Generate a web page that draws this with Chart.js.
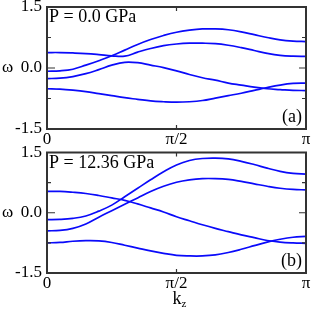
<!DOCTYPE html>
<html><head><meta charset="utf-8">
<script src="https://cdn.jsdelivr.net/npm/chart.js@4/dist/chart.umd.min.js"></script>
<style>
html,body{margin:0;padding:0;background:#fff;overflow:hidden;width:314px;height:314px;position:relative}
canvas{position:absolute;left:0}
#ca{top:-20px}
#cb{top:130px}
</style></head><body>
<canvas id="ca" width="314" height="170"></canvas>
<canvas id="cb" width="314" height="184"></canvas>
<script>
// k_z in units of pi
const kz = [0,0.05,0.1,0.15,0.2,0.25,0.3,0.35,0.4,0.45,0.5,0.55,0.6,0.65,0.7,0.75,0.8,0.85,0.9,0.95,1];
const xTickLabels = ['0','\u03C0/2','\u03C0'];
const yTickValues = [-1.5, 0, 1.5];
const yMinorValues = [-0.75, 0.75];
const panelLabels = ['P = 0.0 GPa', 'P = 12.36 GPa'];
const panelTags = ['(a)', '(b)'];

// Panel (a): P = 0.0 GPa
const a1 = [-0.08,-0.07,-0.03,0.07,0.18,0.30,0.44,0.58,0.70,0.80,0.88,0.93,0.96,0.96,0.94,0.89,0.82,0.75,0.69,0.66,0.65];
const a2 = [0.38,0.38,0.37,0.355,0.33,0.30,0.29,0.39,0.48,0.55,0.59,0.61,0.61,0.60,0.56,0.50,0.43,0.36,0.31,0.29,0.285];
const a3 = [-0.26,-0.25,-0.21,-0.14,-0.04,0.07,0.14,0.13,0.07,0.01,-0.07,-0.16,-0.24,-0.30,-0.37,-0.42,-0.47,-0.51,-0.53,-0.55,-0.555];
const a4 = [-0.51,-0.52,-0.545,-0.58,-0.63,-0.68,-0.73,-0.77,-0.81,-0.83,-0.84,-0.83,-0.80,-0.74,-0.68,-0.62,-0.55,-0.48,-0.42,-0.38,-0.37];

// Panel (b): P = 12.36 GPa
const b1 = [-0.17,-0.165,-0.14,-0.08,0.04,0.19,0.40,0.61,0.82,1.02,1.19,1.30,1.35,1.36,1.34,1.28,1.20,1.11,1.03,0.98,0.96];
const b2 = [0.53,0.53,0.51,0.48,0.43,0.37,0.31,0.22,0.12,0.02,-0.10,-0.20,-0.30,-0.39,-0.47,-0.55,-0.62,-0.69,-0.73,-0.75,-0.76];
const b3 = [-0.45,-0.44,-0.39,-0.28,-0.11,0.05,0.21,0.37,0.53,0.66,0.76,0.82,0.85,0.85,0.83,0.78,0.72,0.66,0.61,0.58,0.57];
const b4 = [-0.75,-0.74,-0.71,-0.695,-0.70,-0.74,-0.81,-0.88,-0.95,-1.01,-1.06,-1.075,-1.075,-1.05,-0.99,-0.91,-0.82,-0.73,-0.66,-0.61,-0.59];

const FONT = 'Liberation Serif';
const LINE = 'rgb(10,10,250)';
const FRAME = '#333';

function mkData(series){
  return {datasets: series.map(s => ({
    data: kz.map((k,i)=>({x:k, y:s[i]})),
    borderColor: LINE, borderWidth: 1.7, pointRadius: 0, tension: 0.4, fill:false
  }))};
}

function framePlugin(idx, showKz){
  return {
    id: 'frame'+idx,
    afterDatasetsDraw(chart){
      const c = chart.ctx, a = chart.chartArea;
      const xs = chart.scales.x, ys = chart.scales.y;
      c.save();
      c.strokeStyle = FRAME; c.lineWidth = 2;
      c.strokeRect(a.left, a.top, a.right-a.left, a.bottom-a.top);
      c.lineWidth = 1.2;
      c.beginPath();
      // y major tick at 0 (inside, both sides)
      const y0 = ys.getPixelForValue(0);
      c.moveTo(a.left, y0); c.lineTo(a.left+8, y0);
      c.moveTo(a.right, y0); c.lineTo(a.right-7, y0);
      yMinorValues.forEach(v=>{
        const yy = ys.getPixelForValue(v);
        c.moveTo(a.left, yy); c.lineTo(a.left+4, yy);
        c.moveTo(a.right, yy); c.lineTo(a.right-4, yy);
      });
      const xm = xs.getPixelForValue(0.5);
      c.moveTo(xm, a.bottom); c.lineTo(xm, a.bottom-4);
      c.moveTo(xm, a.top); c.lineTo(xm, a.top+4);
      c.stroke();
      // texts
      c.fillStyle = '#000';
      c.font = '18px "'+FONT+'"';
      c.textAlign = 'left'; c.textBaseline = 'alphabetic';
      c.fillText(panelLabels[idx], a.left+2, a.top+15);
      c.textAlign = 'right';
      c.fillText(panelTags[idx], a.right-4, a.bottom-7);
      c.textAlign = 'center';
      c.font = '17px "'+FONT+'"';
      c.fillText('\u03C9', 7.5, y0+4);
      if (showKz){
        c.textAlign = 'left';
        c.font = '18px "'+FONT+'"';
        const kx = xm - 4;
        const kb = a.bottom + 30.5;
        c.fillText('k', kx, kb);
        const w = c.measureText('k').width;
        c.font = '11px "'+FONT+'"';
        c.fillText('z', kx + w, kb + 3);
      }
      c.restore();
    }
  };
}

function mkChart(id, series, idx, padTop, xHeight, showKz){
  return new Chart(document.getElementById(id), {
    type: 'line',
    data: mkData(series),
    options: {
      responsive: false, animation: false,
      layout: {padding: {top: padTop, right: 8, left: 0, bottom: 0}},
      plugins: {legend: {display:false}, tooltip: {enabled:false}},
      scales: {
        x: {
          type: 'linear', min: 0, max: 1,
          afterBuildTicks: s => { s.ticks = [0,0.5,1].map(v=>({value:v})); },
          ticks: {
            callback: (v)=> xTickLabels[Math.round(v*2)],
            font: {family: FONT, size: 17}, color: '#000', padding: 0,
            maxRotation: 0, autoSkip: false
          },
          grid: {display: false, drawTicks: false},
          border: {display: false},
          afterFit: s => { s.height = xHeight; }
        },
        y: {
          type: 'linear', min: -1.5, max: 1.5,
          afterBuildTicks: s => { s.ticks = yTickValues.map(v=>({value:v})); },
          ticks: {
            callback: v => v.toFixed(1),
            font: {family: FONT, size: 17}, color: '#000', padding: 5
          },
          grid: {display: false, drawTicks: false},
          border: {display: false},
          afterFit: s => { s.width = 47; }
        }
      }
    },
    plugins: [framePlugin(idx, showKz)]
  });
}

mkChart('ca', [a1,a2,a3,a4], 0, 27, 21, false);
mkChart('cb', [b1,b2,b3,b4], 1, 22.5, 41, true);
</script>
</body></html>
